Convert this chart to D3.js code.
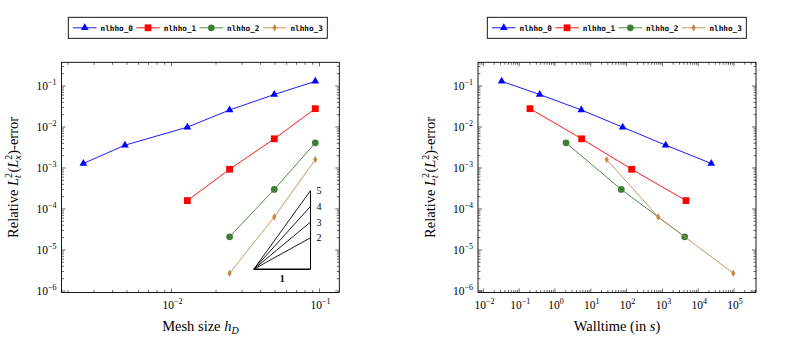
<!DOCTYPE html>
<html><head><meta charset="utf-8">
<script src="https://cdn.jsdelivr.net/npm/d3@7"></script>
<style>body{margin:0;background:#fff}svg{display:block}</style>
</head><body><svg id="c" width="792" height="341"></svg>
<script>
// ---------------- data ----------------
const seriesNames = ["nlhho_0", "nlhho_1", "nlhho_2", "nlhho_3"];
const meshSize0 = [0.00254, 0.00485, 0.0128, 0.0247, 0.0495, 0.0937];
const error0    = [1.29e-3, 3.6e-3, 9.9e-3, 2.6e-2, 6.2e-2, 0.13];
const walltime0 = [23200, 1237, 77.8, 5.43, 0.374, 0.0324];
const meshSize1 = [0.0128, 0.0247, 0.0495, 0.0937];
const error1    = [1.6e-4, 9.3e-4, 5.15e-3, 2.8e-2];
const walltime1 = [4560, 139, 5.57, 0.2];
const meshSize2 = [0.0247, 0.0495, 0.0937];
const error2    = [2.1e-5, 3.0e-4, 4.1e-3];
const walltime2 = [4200, 71, 2.03];
const meshSize3 = [0.0247, 0.0495, 0.0937];
const error3    = [2.7e-6, 6.4e-5, 1.6e-3];
const walltime3 = [95600, 768, 27.8];
const yTickValues    = [1e-6, 1e-5, 1e-4, 1e-3, 1e-2, 1e-1];
const meshTickValues = [1e-2, 1e-1];
const timeTickValues = [1e-2, 1e-1, 1e0, 1e1, 1e2, 1e3, 1e4, 1e5];
const slopeOrders = [2, 3, 4, 5];
const slopeBaseMesh = [0.036, 0.087];
const slopeBaseError = 3.4e-6;

// ---------------- styles ----------------
const colors = ["#0000ff", "#ff0000", "#3d7f35", "#c8884a"];
const symbols = [d3.symbolTriangle, d3.symbolSquare, d3.symbolCircle, d3.symbolDiamond];
const symSizes = [26, 46, 36, 16];
const serif = "'Liberation Serif','Times New Roman',serif";
const mono = "'DejaVu Sans Mono','Liberation Mono',monospace";

const svg = d3.select("#c");
const meshSeries = [meshSize0, meshSize1, meshSize2, meshSize3];
const timeSeries = [walltime0, walltime1, walltime2, walltime3];
const errSeries = [error0, error1, error2, error3];

const yTop = 62.3, yBot = 292.5;
const y = d3.scaleLog().domain([Math.pow(10, -6.037), Math.pow(10, -0.422)]).range([yBot, yTop]);

function minorTicks(scale) {
  const [a, b] = scale.domain();
  const out = [];
  for (let e = Math.floor(Math.log10(a)); e <= Math.ceil(Math.log10(b)); e++) {
    for (let k = 1; k <= 9; k++) {
      const v = k * Math.pow(10, e);
      if (v >= a && v <= b) out.push({v, major: k === 1});
    }
  }
  return out;
}

function expLabel(sel, v) {
  const e = Math.round(Math.log10(v));
  sel.text(null);
  sel.append("tspan").text("10");
  sel.append("tspan").attr("font-size", 8).attr("dy", -5)
    .text(e < 0 ? "\u2212" + (-e) : String(e));
}

function panel(opts) {
  const x = d3.scaleLog().domain(opts.xDomain).range([opts.x0, opts.x1]);
  const g = svg.append("g");
  const tg = g.append("g").attr("stroke", "#000").attr("stroke-width", 0.6);
  minorTicks(x).forEach(t => {
    const L = t.major ? 4 : 2.5, px = x(t.v);
    tg.append("line").attr("x1", px).attr("x2", px).attr("y1", yBot).attr("y2", yBot - L);
    tg.append("line").attr("x1", px).attr("x2", px).attr("y1", yTop).attr("y2", yTop + L);
  });
  minorTicks(y).forEach(t => {
    const L = t.major ? 4 : 2.5, py = y(t.v);
    tg.append("line").attr("y1", py).attr("y2", py).attr("x1", opts.x0).attr("x2", opts.x0 + L);
    tg.append("line").attr("y1", py).attr("y2", py).attr("x1", opts.x1).attr("x2", opts.x1 - L);
  });
  g.append("rect").attr("x", opts.x0).attr("y", yTop).attr("width", opts.x1 - opts.x0)
    .attr("height", yBot - yTop).attr("fill", "none").attr("stroke", "#000").attr("stroke-width", 0.9);
  opts.xTicks.forEach(v => {
    g.append("text").attr("x", x(v) + 1).attr("y", 308.5).attr("text-anchor", "middle")
      .attr("font-family", serif).attr("font-size", 11.5).attr("fill", "#000")
      .call(expLabel, v);
  });
  yTickValues.forEach(v => {
    g.append("text").attr("x", opts.x0 - 5).attr("y", y(v) + 4).attr("text-anchor", "end")
      .attr("font-family", serif).attr("font-size", 11.5).attr("fill", "#000")
      .call(expLabel, v);
  });
  const xl = g.append("text").attr("x", (opts.x0 + opts.x1) / 2).attr("y", 330.5)
    .attr("text-anchor", "middle").attr("font-family", serif).attr("font-size", 14.5).attr("fill", "#000");
  opts.xLabel(xl);
  const yl = g.append("text").attr("transform", `translate(${opts.x0 - 43.5},${(yTop + yBot) / 2}) rotate(-90)`)
    .attr("text-anchor", "middle").attr("font-family", serif).attr("font-size", 14.5).attr("fill", "#000");
  yl.append("tspan").text("Relative ");
  yl.append("tspan").attr("font-style", "italic").text("L");
  yl.append("tspan").attr("font-size", 10).attr("dy", -6).text("2");
  yl.append("tspan").attr("font-size", 10).attr("font-style", "italic").attr("dx", -5).attr("dy", 9).text("t");
  yl.append("tspan").attr("dx", 2.5).attr("dy", -3).text("(");
  yl.append("tspan").attr("font-style", "italic").text("L");
  yl.append("tspan").attr("font-size", 10).attr("dy", -6).text("2");
  yl.append("tspan").attr("font-size", 10).attr("font-style", "italic").attr("dx", -5).attr("dy", 9).text("x");
  yl.append("tspan").attr("dx", 0.5).attr("dy", -3).text(")-error");

  const xs = opts.xSeries;
  seriesNames.forEach((name, i) => {
    const pts = xs[i].map((xv, j) => [x(xv), y(errSeries[i][j])]);
    g.append("path").attr("d", d3.line()(pts)).attr("fill", "none")
      .attr("stroke", colors[i]).attr("stroke-width", 0.9);
    pts.forEach(p => {
      g.append("path").attr("d", d3.symbol().type(symbols[i]).size(symSizes[i])())
        .attr("transform", `translate(${p[0]},${p[1]})`).attr("fill", colors[i]);
    });
  });

  const lg = g.append("g");
  const lx = opts.legendX, ly0 = 17.3, lh = 21;
  lg.append("rect").attr("x", lx).attr("y", ly0).attr("width", 259).attr("height", lh)
    .attr("fill", "#fff").attr("stroke", "#000").attr("stroke-width", 0.9);
  seriesNames.forEach((name, i) => {
    const ex = lx + 4.7 + i * 63.3, cy = ly0 + lh / 2;
    lg.append("line").attr("x1", ex).attr("x2", ex + 23.5).attr("y1", cy).attr("y2", cy)
      .attr("stroke", colors[i]).attr("stroke-width", 0.9);
    lg.append("path").attr("d", d3.symbol().type(symbols[i]).size(symSizes[i])())
      .attr("transform", `translate(${ex + 11.75},${cy})`).attr("fill", colors[i]);
    lg.append("text").attr("x", ex + 27.5).attr("y", cy + 3).attr("font-family", mono)
      .attr("font-size", 7.7).attr("font-weight", "bold").attr("fill", "#000").text(name);
  });
  return {x, g};
}

const left = panel({
  x0: 61.5, x1: 339.3,
  xDomain: [Math.pow(10, -2.743), Math.pow(10, -0.866)],
  xTicks: meshTickValues,
  xSeries: meshSeries,
  legendX: 68.3,
  xLabel: t => {
    t.append("tspan").text("Mesh size ");
    t.append("tspan").attr("font-style", "italic").text("h");
    t.append("tspan").attr("font-style", "italic").attr("font-size", 10).attr("dy", 3).text("D");
  }
});

(function () {
  const x = left.x, g = left.g;
  const lx0 = Math.log10(slopeBaseMesh[0]), lx1 = Math.log10(slopeBaseMesh[1]);
  const dx = lx1 - lx0;
  const topErr = slopeBaseError * Math.pow(10, d3.max(slopeOrders) * dx);
  const tg = g.append("g").attr("stroke", "#000").attr("fill", "none");
  tg.append("line").attr("x1", x(slopeBaseMesh[0])).attr("x2", x(slopeBaseMesh[1]))
    .attr("y1", y(slopeBaseError)).attr("y2", y(slopeBaseError)).attr("stroke-width", 1.6);
  tg.append("line").attr("x1", x(slopeBaseMesh[1])).attr("x2", x(slopeBaseMesh[1]))
    .attr("y1", y(slopeBaseError)).attr("y2", y(topErr)).attr("stroke-width", 1);
  slopeOrders.forEach(k => {
    const e = slopeBaseError * Math.pow(10, k * dx);
    tg.append("line").attr("x1", x(slopeBaseMesh[0])).attr("y1", y(slopeBaseError))
      .attr("x2", x(slopeBaseMesh[1])).attr("y2", y(e)).attr("stroke-width", 0.9);
    g.append("text").attr("x", x(slopeBaseMesh[1]) + 6).attr("y", y(e) + 3.5)
      .attr("font-family", serif).attr("font-size", 10).attr("fill", "#000").text(k);
  });
  g.append("text").attr("x", (x(slopeBaseMesh[0]) + x(slopeBaseMesh[1])) / 2).attr("y", y(slopeBaseError) + 13)
    .attr("text-anchor", "middle").attr("font-family", serif).attr("font-size", 10)
    .attr("font-weight", "bold").attr("fill", "#000").text("1");
})();

panel({
  x0: 478, x1: 756,
  xDomain: [Math.pow(10, -2.151), Math.pow(10, 5.615)],
  xTicks: timeTickValues,
  xSeries: timeSeries,
  legendX: 487.3,
  xLabel: t => {
    t.append("tspan").text("Walltime (in ");
    t.append("tspan").attr("font-style", "italic").text("s");
    t.append("tspan").text(")");
  }
});
</script>
</body></html>
